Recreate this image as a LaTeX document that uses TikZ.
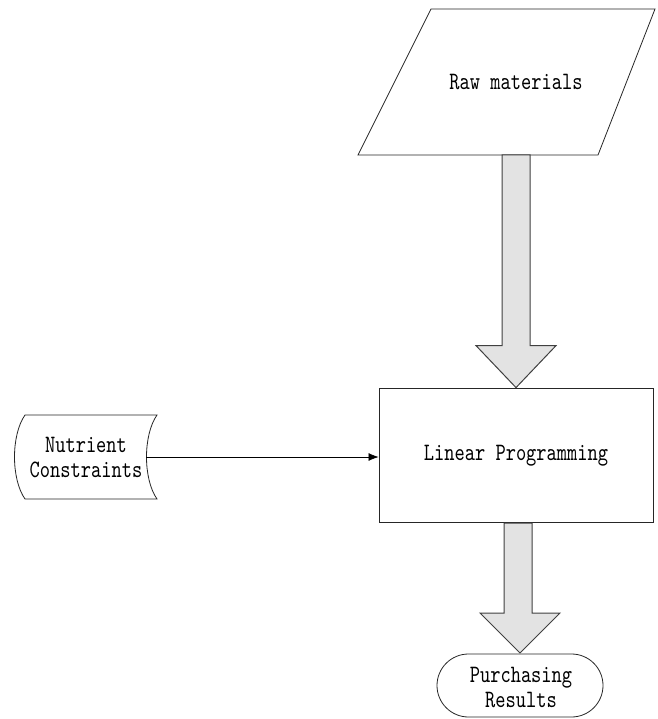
\documentclass[tikz,border=0pt]{standalone}
\usepackage{fontspec}
\newfontfamily\diafont[FakeStretch=0.78]{lmmono10-regular.otf}
\usetikzlibrary{shapes.misc,calc,arrows.meta}
\begin{document}
\begin{tikzpicture}[x=1pt,y=-1pt,
  outline/.style={draw=black!85,line width=0.8pt,fill=white},
  label/.style={font=\diafont\fontsize{25}{25}\selectfont,align=center,inner sep=0pt},
  blockarrow/.style={fill=gray!22,draw=black!75,line width=1pt,line join=miter},
  connector/.style={draw=black,line width=0.7pt,-{Latex[length=10pt,width=8pt]}}]
\useasboundingbox (0,0) rectangle (657,719);
% Raw materials (parallelogram)
\draw[outline] (431,9) -- (655,9) -- (598,155) -- (358,155) -- cycle;
\node[label] (raw) at (516,82) {Raw materials};
\coordinate (rawbot) at (516,155);
% Linear Programming box
\node[outline,rectangle,minimum width=274pt,minimum height=134pt,inner sep=0pt] (lp) at (516,455) {};
\node[label] (lptext) at (516,456) {Linear Programming};
% Nutrient Constraints (stored data)
\draw[outline] (25,415) -- (157,415) .. controls (143,435) and (143,479) .. (157,499)
  -- (25,499) .. controls (11,479) and (11,435) .. (25,415) -- cycle;
\node[label] (nc) at (86,457) {Nutrient\\Constraints};
\coordinate (ncout) at (146,457);
% Purchasing Results (terminal)
\node[outline,rounded rectangle,minimum width=166pt,minimum height=63pt,inner sep=0pt] (pr) at (520,685.5) {};
\node[label] (prtext) at (521,687) {Purchasing\\Results};
% block arrow 1
\draw[blockarrow] ($(rawbot)+(-14,0)$) -- ($(rawbot)+(14,0)$) -- ($(lp.north)+(14,-42)$) -- ($(lp.north)+(40,-42)$)
  -- (lp.north) -- ($(lp.north)+(-40,-42)$) -- ($(lp.north)+(-14,-42)$) -- cycle;
% block arrow 2
\coordinate (lpbot) at (518,523);
\coordinate (prtop) at (520,653);
\draw[blockarrow] ($(lpbot)+(-14,0)$) -- ($(lpbot)+(14,0)$) -- ($(prtop)+(12,-40)$) -- ($(prtop)+(40,-40)$)
  -- (prtop) -- ($(prtop)+(-40,-40)$) -- ($(prtop)+(-16,-40)$) -- cycle;
% connector
\draw[connector] (ncout) -- (ncout -| lp.west);
\end{tikzpicture}
\end{document}
